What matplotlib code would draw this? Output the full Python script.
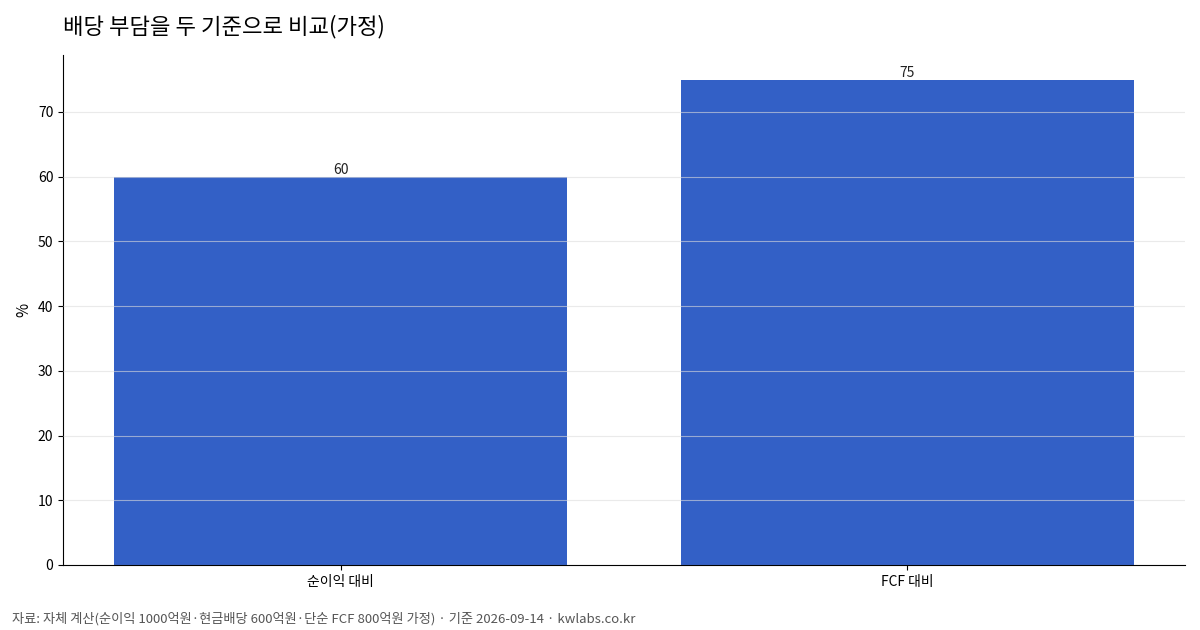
import matplotlib
matplotlib.use("Agg")
import matplotlib.pyplot as plt

plt.rcParams['font.family'] = ['Noto Sans CJK KR', 'DejaVu Sans']

categories = ["순이익 대비", "FCF 대비"]
values = [60, 75]

fig = plt.figure(figsize=(12, 6.3), dpi=100)
ax = fig.add_axes([63/1200, 1-565/630, (1185-63)/1200, (565-55)/630])
bars = ax.bar(range(len(categories)), values, width=0.8, color="#3360c6", zorder=2)
ax.set_xticks(range(len(categories)))
ax.set_xticklabels(categories, fontsize=10)
ax.set_xlim(-0.49, 1.49)
ax.set_ylim(0, 78.8)
ax.set_yticks(range(0, 71, 10))
ax.tick_params(axis='y', labelsize=10)
ax.set_ylabel("%", fontsize=11)
ax.yaxis.grid(True, color="#dddddd", linewidth=0.8, alpha=0.6, zorder=3)
ax.set_axisbelow(False)
for s in ["top", "right"]:
    ax.spines[s].set_visible(False)
for b, v in zip(bars, values):
    ax.text(b.get_x()+b.get_width()/2, v, f"{v}", ha="center", va="bottom", fontsize=10, color="#222222")

fig.text(63/1200, 1-27/630, "배당 부담을 두 기준으로 비교(가정)", fontsize=16, va="center", ha="left")
fig.text(12/1200, 1-619/630, "자료: 자체 계산(순이익 1000억원·현금배당 600억원·단순 FCF 800억원 가정) · 기준 2026-09-14 · kwlabs.co.kr",
         fontsize=9.5, color="#555555", va="center", ha="left")
fig.savefig("out.png", dpi=100)
